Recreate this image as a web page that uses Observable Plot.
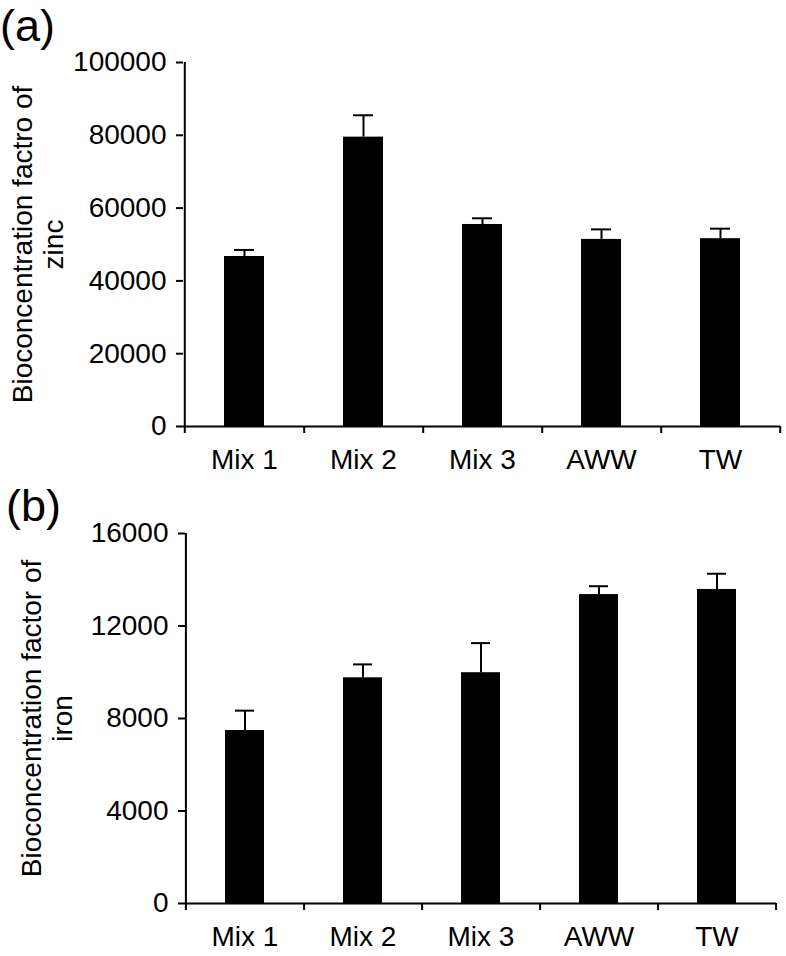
<!DOCTYPE html>
<html>
<head>
<meta charset="utf-8">
<script src="https://cdn.jsdelivr.net/npm/d3@7"></script>
<script src="https://cdn.jsdelivr.net/npm/@observablehq/plot@0.6"></script>
<style>
  html, body { margin: 0; padding: 0; background: #fff; }
  #chart { width: 786px; position: relative; }
  #chart svg { display: block; overflow: visible; }
</style>
</head>
<body>
<div id="chart"></div>
<script>
// ---- data ----
const categories = ["Mix 1", "Mix 2", "Mix 3", "AWW", "TW"];
const zincValues = [46700, 79500, 55500, 51400, 51600];
const zincErrors = [1800, 6000, 1700, 2750, 2750];
const ironValues = [7480, 9760, 9980, 13360, 13580];
const ironErrors = [860, 580, 1280, 360, 680];
const zincTicks = [0, 20000, 40000, 60000, 80000, 100000];
const ironTicks = [0, 4000, 8000, 12000, 16000];
const zincTitle = "Bioconcentration factro of\nzinc";
const ironTitle = "Bioconcentration factor of\niron";

const FONT = "'Liberation Sans', Arial, Helvetica, sans-serif";

function panel({values, errors, ticks, title, label, height, marginLeft, marginRight, marginTop, marginBottom, paddingInner, titleDx, labelX, labelY}) {
  const width = 786;
  const rows = categories.map((c, i) => ({cat: c, v: values[i], e: errors[i], top: values[i] + errors[i]}));
  const yMax = ticks[ticks.length - 1];
  const step = (width - marginLeft - marginRight) / categories.length;
  const svg = Plot.plot({
    width, height, marginLeft, marginRight, marginTop, marginBottom,
    style: {fontFamily: FONT, fontSize: "28px", color: "#000", background: "transparent"},
    x: {domain: categories, paddingInner, paddingOuter: paddingInner / 2, label: null},
    y: {domain: [0, yMax], label: null},
    marks: [
      Plot.barY(rows, {x: "cat", y: "v", fill: "#000"}),
      Plot.ruleX(rows, {x: "cat", y1: "v", y2: "top", stroke: "#000", strokeWidth: 2}),
      Plot.tickY(rows, {x: "cat", y: "top", stroke: "#000", strokeWidth: 2, insetLeft: 10, insetRight: 10}),
      // axis lines
      Plot.ruleY([0], {stroke: "#000", strokeWidth: 2}),
      Plot.ruleX([categories[0]], {x: d => d, y1: () => yMax, y2: () => 0, dx: -step / 2, insetBottom: -7, stroke: "#000", strokeWidth: 2}),
      // category boundary ticks
      Plot.ruleX(categories, {x: d => d, y1: () => 0, y2: () => 0, dx: step / 2, insetBottom: -7, stroke: "#000", strokeWidth: 2}),
      Plot.axisY({ticks, tickSize: 7, tickPadding: 10, tickFormat: d => String(d), fontSize: 28, strokeWidth: 2, label: null}),
      Plot.axisX({tickSize: 0, tickPadding: 23, fontSize: 28, label: null}),
      Plot.text([title], {frameAnchor: "left", rotate: -90, dx: titleDx, textAnchor: "middle", lineAnchor: "bottom", lineHeight: 1.1, fontSize: 28, fill: "#000"})
    ]
  });
  d3.select(svg).append("text")
    .attr("x", labelX).attr("y", labelY)
    .attr("text-anchor", "start")
    .attr("font-size", 45).attr("font-family", FONT).attr("fill", "#000")
    .text(label);
  return svg;
}

const root = document.getElementById("chart");
const panelA = panel({
  values: zincValues, errors: zincErrors, ticks: zincTicks, title: zincTitle, label: "(a)",
  height: 480, marginLeft: 183, marginRight: 6, marginTop: 62, marginBottom: 54,
  paddingInner: 0.665, titleDx: -121, labelX: 0, labelY: 41
});
const panelB = panel({
  values: ironValues, errors: ironErrors, ticks: ironTicks, title: ironTitle, label: "(b)",
  height: 486, marginLeft: 185, marginRight: 10, marginTop: 63, marginBottom: 53,
  paddingInner: 0.67, titleDx: -114, labelX: 6, labelY: 521 - 470
});
panelB.style.marginTop = "-10px";
root.appendChild(panelA);
root.appendChild(panelB);
</script>
</body>
</html>
